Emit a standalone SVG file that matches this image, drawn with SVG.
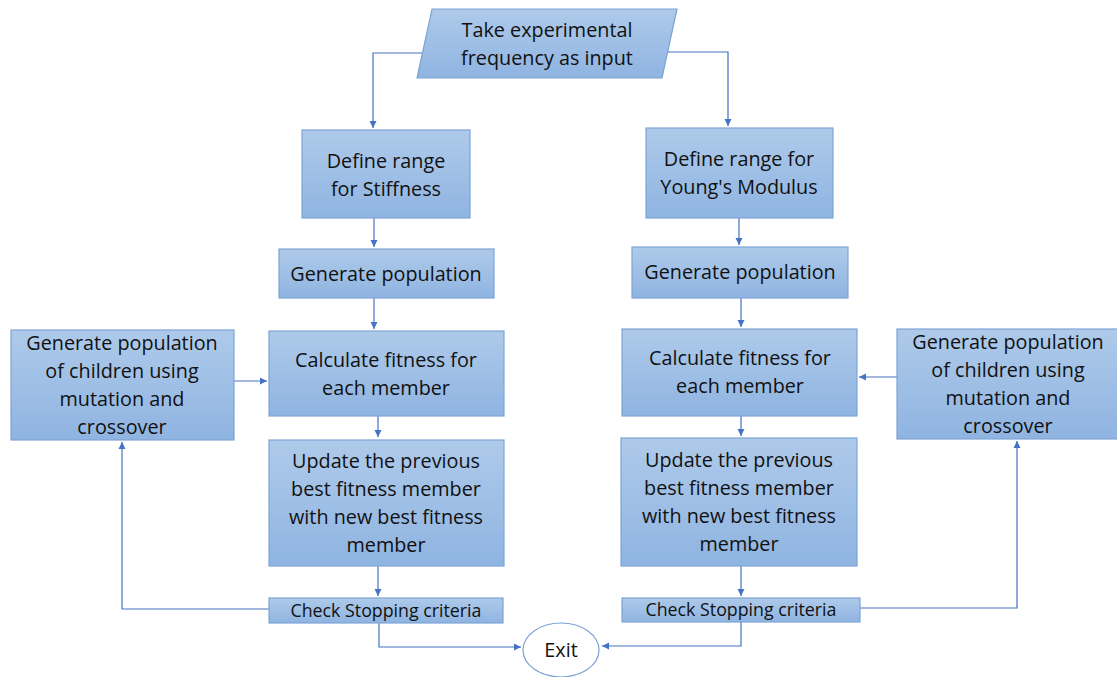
<svg xmlns="http://www.w3.org/2000/svg" width="1117" height="677" viewBox="0 0 1117 677">
<defs>
<linearGradient id="g" x1="0" y1="0" x2="0" y2="1">
<stop offset="0" stop-color="#aecaea"/>
<stop offset="1" stop-color="#8fb4e1"/>
</linearGradient>
<marker id="a" markerWidth="8" markerHeight="8" refX="7" refY="4" orient="auto" markerUnits="userSpaceOnUse">
<path d="M0,0.5 L7,4 L0,7.5 z" fill="#4472c4"/>
</marker>
</defs>
<style>
.b{fill:url(#g);stroke:#7ea3d6;stroke-width:1.2}
.t{font-family:"Open Sans","Liberation Sans",sans-serif;font-size:19.8px;fill:#111;text-anchor:middle}
.s{font-family:"Open Sans","Liberation Sans",sans-serif;font-size:17.8px;fill:#111;text-anchor:middle}
.c{fill:none;stroke:#4472c4;stroke-width:1.2}
</style>
<rect width="1117" height="677" fill="#fff"/>
<g id="connectors">
<path class="c" d="M422,53 H373 V128" marker-end="url(#a)"/>
<path class="c" d="M666,52 H728 V126" marker-end="url(#a)"/>
<path class="c" d="M374,218 V247" marker-end="url(#a)"/>
<path class="c" d="M374,298 V329" marker-end="url(#a)"/>
<path class="c" d="M378,416 V437" marker-end="url(#a)"/>
<path class="c" d="M378,566 V596" marker-end="url(#a)"/>
<path class="c" d="M739,218 V245" marker-end="url(#a)"/>
<path class="c" d="M741,298 V327" marker-end="url(#a)"/>
<path class="c" d="M741,416 V436" marker-end="url(#a)"/>
<path class="c" d="M741,566 V596" marker-end="url(#a)"/>
<path class="c" d="M234,381 H267" marker-end="url(#a)"/>
<path class="c" d="M897,377 H859" marker-end="url(#a)"/>
<path class="c" d="M269,609 H122 V442" marker-end="url(#a)"/>
<path class="c" d="M860,608 H1017 V441" marker-end="url(#a)"/>
<path class="c" d="M379,622 V647 H521" marker-end="url(#a)"/>
<path class="c" d="M741,622 V646 H602" marker-end="url(#a)"/>
</g>
<g id="input">
<polygon class="b" points="432,9 677,9 662,78 417,78"/>
<text class="t" x="547" y="37">Take experimental</text>
<text class="t" x="547" y="65">frequency as input</text>
</g>
<g id="rangeStiffness">
<rect class="b" x="302" y="130" width="168" height="88"/>
<text class="t" x="386" y="168">Define range</text>
<text class="t" x="386" y="196">for Stiffness</text>
</g>
<g id="rangeYoung">
<rect class="b" x="646" y="128" width="187" height="90"/>
<text class="t" x="739" y="166">Define range for</text>
<text class="t" x="739" y="194">Young's Modulus</text>
</g>
<g id="genPopL">
<rect class="b" x="279" y="249" width="215" height="49"/>
<text class="t" x="386" y="281">Generate population</text>
</g>
<g id="genPopR">
<rect class="b" x="632" y="247" width="216" height="51"/>
<text class="t" x="740" y="279">Generate population</text>
</g>
<g id="fitL">
<rect class="b" x="269" y="331" width="235" height="85"/>
<text class="t" x="386" y="367">Calculate fitness for</text>
<text class="t" x="386" y="395">each member</text>
</g>
<g id="fitR">
<rect class="b" x="622" y="329" width="235" height="87"/>
<text class="t" x="740" y="365">Calculate fitness for</text>
<text class="t" x="740" y="393">each member</text>
</g>
<g id="childL">
<rect class="b" x="11" y="330" width="223" height="110"/>
<text class="t" x="122" y="350">Generate population</text>
<text class="t" x="122" y="378">of children using</text>
<text class="t" x="122" y="406">mutation and</text>
<text class="t" x="122" y="434">crossover</text>
</g>
<g id="childR">
<rect class="b" x="897" y="329" width="225" height="110"/>
<text class="t" x="1008" y="349">Generate population</text>
<text class="t" x="1008" y="377">of children using</text>
<text class="t" x="1008" y="405">mutation and</text>
<text class="t" x="1008" y="433">crossover</text>
</g>
<g id="updL">
<rect class="b" x="269" y="440" width="235" height="126"/>
<text class="t" x="386" y="468">Update the previous</text>
<text class="t" x="386" y="496">best fitness member</text>
<text class="t" x="386" y="524">with new best fitness</text>
<text class="t" x="386" y="552">member</text>
</g>
<g id="updR">
<rect class="b" x="621" y="438" width="236" height="128"/>
<text class="t" x="739" y="467">Update the previous</text>
<text class="t" x="739" y="495">best fitness member</text>
<text class="t" x="739" y="523">with new best fitness</text>
<text class="t" x="739" y="551">member</text>
</g>
<g id="checkL">
<rect class="b" x="269" y="598" width="234" height="25"/>
<text class="s" x="386" y="617">Check Stopping criteria</text>
</g>
<g id="checkR">
<rect class="b" x="622" y="598" width="238" height="24"/>
<text class="s" x="741" y="616">Check Stopping criteria</text>
</g>
<g id="exit">
<ellipse cx="561" cy="650" rx="38" ry="27" fill="#fff" stroke="#7ea3d6" stroke-width="1.2"/>
<text class="t" x="561" y="657">Exit</text>
</g>
</svg>
